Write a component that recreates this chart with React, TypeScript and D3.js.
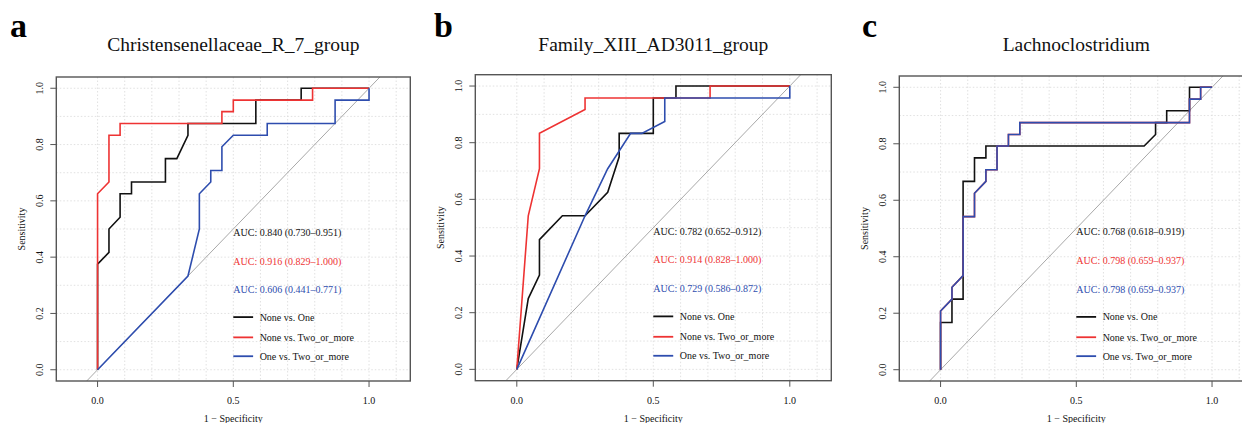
import React from "react";
import * as d3 from "d3";

type Pt = [number, number];

// legend / series names
const seriesNames = ["None vs. One", "None vs. Two_or_more", "One vs. Two_or_more"];
const seriesColors = ["#111111", "#EE3333", "#2E4DAE"];

// panel a: Christensenellaceae_R_7_group
const aNoneOne: Pt[] = [[0, 0], [0, 0.375], [0.042, 0.417], [0.042, 0.5], [0.083, 0.542], [0.083, 0.625], [0.125, 0.625], [0.125, 0.667], [0.25, 0.667], [0.25, 0.75], [0.292, 0.75], [0.333, 0.833], [0.333, 0.875], [0.583, 0.875], [0.583, 0.958], [0.75, 0.958], [0.75, 1], [1, 1]];
const aNoneTwo: Pt[] = [[0, 0], [0, 0.625], [0.042, 0.667], [0.042, 0.833], [0.083, 0.833], [0.083, 0.875], [0.458, 0.875], [0.458, 0.917], [0.5, 0.917], [0.5, 0.958], [0.792, 0.958], [0.792, 1], [1, 1]];
const aOneTwo: Pt[] = [[0, 0], [0.333, 0.333], [0.375, 0.5], [0.375, 0.625], [0.417, 0.667], [0.417, 0.708], [0.458, 0.708], [0.458, 0.792], [0.5, 0.833], [0.625, 0.833], [0.625, 0.875], [0.875, 0.875], [0.875, 0.958], [1, 0.958], [1, 1]];
const aAuc = ["AUC: 0.840 (0.730\u20130.951)", "AUC: 0.916 (0.829\u20131.000)", "AUC: 0.606 (0.441\u20130.771)"];

// panel b: Family_XIII_AD3011_group
const bNoneOne: Pt[] = [[0, 0], [0.042, 0.25], [0.083, 0.333], [0.083, 0.458], [0.167, 0.542], [0.25, 0.542], [0.333, 0.625], [0.375, 0.75], [0.375, 0.833], [0.5, 0.833], [0.5, 0.958], [0.583, 0.958], [0.583, 1], [1, 1]];
const bNoneTwo: Pt[] = [[0, 0], [0.042, 0.542], [0.083, 0.708], [0.083, 0.833], [0.25, 0.917], [0.25, 0.958], [0.708, 0.958], [0.708, 1], [1, 1]];
const bOneTwo: Pt[] = [[0, 0], [0.25, 0.542], [0.333, 0.708], [0.417, 0.833], [0.458, 0.833], [0.542, 0.875], [0.542, 0.958], [1, 0.958], [1, 1]];
const bAuc = ["AUC: 0.782 (0.652\u20130.912)", "AUC: 0.914 (0.828\u20131.000)", "AUC: 0.729 (0.586\u20130.872)"];

// panel c: Lachnoclostridium (red curve is identical to blue, hidden under it)
const cNoneOne: Pt[] = [[0, 0], [0, 0.167], [0.042, 0.167], [0.042, 0.25], [0.083, 0.25], [0.083, 0.667], [0.125, 0.667], [0.125, 0.75], [0.167, 0.75], [0.167, 0.792], [0.75, 0.792], [0.792, 0.833], [0.792, 0.875], [0.833, 0.875], [0.833, 0.917], [0.917, 0.917], [0.917, 1], [1, 1]];
const cOneTwo: Pt[] = [[0, 0], [0, 0.208], [0.042, 0.25], [0.042, 0.292], [0.083, 0.333], [0.083, 0.542], [0.125, 0.542], [0.125, 0.625], [0.167, 0.667], [0.167, 0.708], [0.208, 0.708], [0.208, 0.792], [0.25, 0.792], [0.25, 0.833], [0.292, 0.833], [0.292, 0.875], [0.917, 0.875], [0.917, 0.958], [0.958, 0.958], [0.958, 1], [1, 1]];
const cNoneTwo: Pt[] = cOneTwo;
const cAuc = ["AUC: 0.768 (0.618\u20130.919)", "AUC: 0.798 (0.659\u20130.937)", "AUC: 0.798 (0.659\u20130.937)"];

// ticks
const xTicks = [0, 0.5, 1];
const yTicks = [0, 0.2, 0.4, 0.6, 0.8, 1];
const xGrid = [0, 0.1, 0.2, 0.3, 0.4, 0.5, 0.6, 0.7, 0.8, 0.9, 1, 1.1];
const yGrid = [0, 0.1, 0.2, 0.3, 0.4, 0.5, 0.6, 0.7, 0.8, 0.9, 1];

// where AUC text and legend sit, in data units
const aucY = [0.488, 0.386, 0.285];
const legendY = [0.187, 0.115, 0.048];

const FONT = "'Liberation Serif', 'Times New Roman', serif";

const panels = [
  { key: "a", letter: "a", title: "Christensenellaceae_R_7_group", series: [aNoneOne, aNoneTwo, aOneTwo], auc: aAuc, left: 56.3, top: 77, w: 354, h: 304, letterX: 10 },
  { key: "b", letter: "b", title: "Family_XIII_AD3011_group", series: [bNoneOne, bNoneTwo, bOneTwo], auc: bAuc, left: 475.3, top: 74.7, w: 356, h: 306, letterX: 434 },
  { key: "c", letter: "c", title: "Lachnoclostridium", series: [cNoneOne, cNoneTwo, cOneTwo], auc: cAuc, left: 899.3, top: 76, w: 354, h: 305, letterX: 862 },
];

function RocPanel(props: any) {
  const { p } = props;
  const x = d3.scaleLinear().domain([-0.152, 1.152]).range([0, p.w]);
  const y = d3.scaleLinear().domain([-0.04, 1.04]).range([p.h, 0]);
  const line = d3.line<Pt>().x((d) => x(d[0])).y((d) => y(d[1]));
  const clipId = `clip-${p.key}`;

  return (
    <g>
      <text x={p.letterX} y={37} fontSize={34} fontWeight="bold" fontFamily={FONT}>
        {p.letter}
      </text>
      <text x={p.left + p.w / 2} y={51} fontSize={19.5} textAnchor="middle" fontFamily={FONT} fill="#111">
        {p.title}
      </text>
      <g transform={`translate(${p.left},${p.top})`}>
        <clipPath id={clipId}>
          <rect x={0} y={0} width={p.w} height={p.h} />
        </clipPath>
        {/* grid */}
        {xGrid.map((g) => (
          <line key={`gx${g}`} x1={x(g)} x2={x(g)} y1={0} y2={p.h} stroke="#d9d9d9" strokeWidth={0.8} strokeDasharray="1.5,2" />
        ))}
        {yGrid.map((g) => (
          <line key={`gy${g}`} x1={0} x2={p.w} y1={y(g)} y2={y(g)} stroke="#d9d9d9" strokeWidth={0.8} strokeDasharray="1.5,2" />
        ))}
        {/* chance line */}
        <g clipPath={`url(#${clipId})`}>
          <line x1={x(-0.2)} y1={y(-0.2)} x2={x(1.2)} y2={y(1.2)} stroke="#a8a8a8" strokeWidth={1} />
          {p.series.map((s: Pt[], i: number) => (
            <path key={i} d={line(s) || ""} fill="none" stroke={seriesColors[i]} strokeWidth={1.6} />
          ))}
        </g>
        {/* AUC labels */}
        {p.auc.map((t: string, i: number) => (
          <text key={`auc${i}`} x={x(0.5)} y={y(aucY[i])} dy="0.35em" fontSize={10} fill={seriesColors[i]} fontFamily={FONT}>
            {t}
          </text>
        ))}
        {/* legend */}
        {seriesNames.map((n, i) => (
          <g key={`lg${i}`}>
            <line x1={x(0.5)} x2={x(0.573)} y1={y(legendY[i])} y2={y(legendY[i])} stroke={seriesColors[i]} strokeWidth={1.8} />
            <text x={x(0.597)} y={y(legendY[i])} dy="0.35em" fontSize={10} fontFamily={FONT} fill="#111">
              {n}
            </text>
          </g>
        ))}
        {/* box */}
        <rect x={0} y={0} width={p.w} height={p.h} fill="none" stroke="#555" strokeWidth={1.4} />
        {/* x axis */}
        {xTicks.map((t) => (
          <g key={`xt${t}`}>
            <line x1={x(t)} x2={x(t)} y1={p.h} y2={p.h + 6} stroke="#555" strokeWidth={1} />
            <text x={x(t)} y={p.h + 23} fontSize={10} textAnchor="middle" fontFamily={FONT} fill="#111">
              {d3.format(".1f")(t)}
            </text>
          </g>
        ))}
        {/* y axis */}
        {yTicks.map((t) => (
          <g key={`yt${t}`}>
            <line x1={-6} x2={0} y1={y(t)} y2={y(t)} stroke="#555" strokeWidth={1} />
            <text transform={`translate(${-13},${y(t)}) rotate(-90)`} fontSize={10} textAnchor="middle" fontFamily={FONT} fill="#111">
              {d3.format(".1f")(t)}
            </text>
          </g>
        ))}
        <text transform={`translate(${-31},${p.h / 2}) rotate(-90)`} fontSize={10} textAnchor="middle" fontFamily={FONT} fill="#111">
          Sensitivity
        </text>
        <text x={x(0.5)} y={p.h + 41} fontSize={10} textAnchor="middle" fontFamily={FONT} fill="#111">
          1 − Specificity
        </text>
      </g>
    </g>
  );
}

export default function App() {
  return (
    <div style={{ position: "absolute", left: 0, top: 0 }}>
      <svg width={1242} height={423} style={{ display: "block", background: "#fff" }}>
        {panels.map((p) => (
          <RocPanel key={p.key} p={p} />
        ))}
      </svg>
    </div>
  );
}
